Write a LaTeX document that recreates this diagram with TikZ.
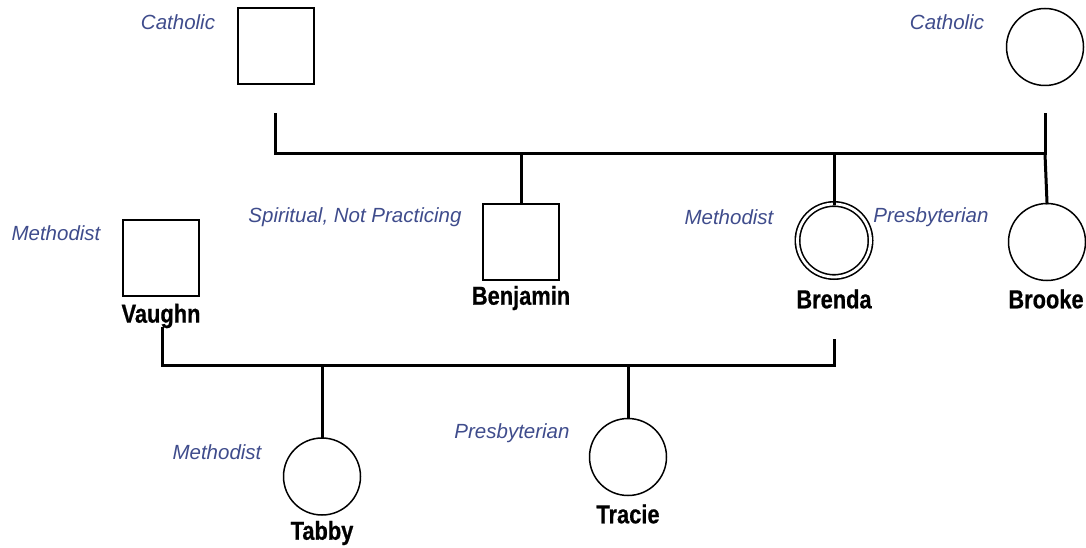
\documentclass[tikz,border=0pt]{standalone}
\usepackage{fontspec}
\setmainfont{Liberation Sans}
\newfontfamily\namefont[FakeStretch=0.84,FakeBold=0.6]{Liberation Sans}
\definecolor{relblue}{HTML}{3F4C8C}
\begin{document}
\begin{tikzpicture}[x=1pt,y=-1pt,
  male/.style={draw=black,line width=2pt,minimum size=76pt,inner sep=0pt,rectangle},
  female/.style={draw=black,line width=1.5pt,circle,minimum size=77pt,inner sep=0pt},
  proband/.style={circle,draw=black,line width=1.6pt,double=white,double distance=2.8pt,minimum size=73pt,inner sep=0pt},
  rel/.style={font=\fontsize{20.5}{23}\selectfont\itshape,text=relblue,inner sep=0pt},
  pname/.style={font=\namefont\fontsize{26}{29}\selectfont\bfseries,inner sep=0pt},
  link/.style={line width=3pt,line cap=rect}]
\useasboundingbox (0,0) rectangle (1086,548);
% generation 1
\node[male] (gf) at (275.5,46.5) {};
\node[female] (gm) at (1045,47) {};
\node[rel] (gfrel) at (178,22.5) {Catholic};
\node[rel] (gmrel) at (947,22.5) {Catholic};
\coordinate (gfd) at (275,115);
\coordinate (gmd) at (1045,115);
\coordinate (ml) at (275,154);
\coordinate (mr) at (1045,154);
\draw[link] (gfd) -- (ml) -- (mr) -- (gmd);
% generation 2
\node[male] (benjamin) at (521,241.5) {};
\node[proband] (brenda) at (834,240.5) {};
\node[female] (brooke) at (1047,242) {};
\node[male] (vaughn) at (161,257.5) {};
\node[pname] (benjaminn) at (521,298) {Benjamin};
\node[pname] (brendan) at (834,299) {Brenda};
\node[pname] (brooken) at (1046,299) {Brooke};
\node[pname] (vaughnn) at (161,316) {Vaughn};
\node[rel] (vaughnrel) at (56,233.5) {Methodist};
\node[rel] (benjaminrel) at (355,217.5) {Spiritual, Not Practicing};
\node[rel] (brendarel) at (729,217.5) {Methodist};
\node[rel] (brookerel) at (931,217.5) {Presbyterian};
\coordinate (sb) at (521,154);
\coordinate (sr) at (834,154);
\draw[link] (sb) -- (benjamin.north);
\draw[link] (sr) -- (brenda.north);
\draw[link] (mr) -- (brooke.north);
% marriage 2
\coordinate (vd) at (162,328);
\coordinate (bd) at (834,340);
\coordinate (vl) at (162,365);
\coordinate (br) at (834,365);
\draw[link] (vd) -- (vl) -- (br) -- (bd);
% generation 3
\node[female] (tabby) at (322,476.5) {};
\node[female] (tracie) at (628,457) {};
\node[pname] (tabbyn) at (322,533) {Tabby};
\node[pname] (tracien) at (628,514) {Tracie};
\node[rel] (tabbyrel) at (217,452.5) {Methodist};
\node[rel] (tracierel) at (512,433.5) {Presbyterian};
\coordinate (st) at (322,365);
\coordinate (sc) at (628,365);
\draw[link] (st) -- (tabby.north);
\draw[link] (sc) -- (tracie.north);
\end{tikzpicture}
\end{document}
